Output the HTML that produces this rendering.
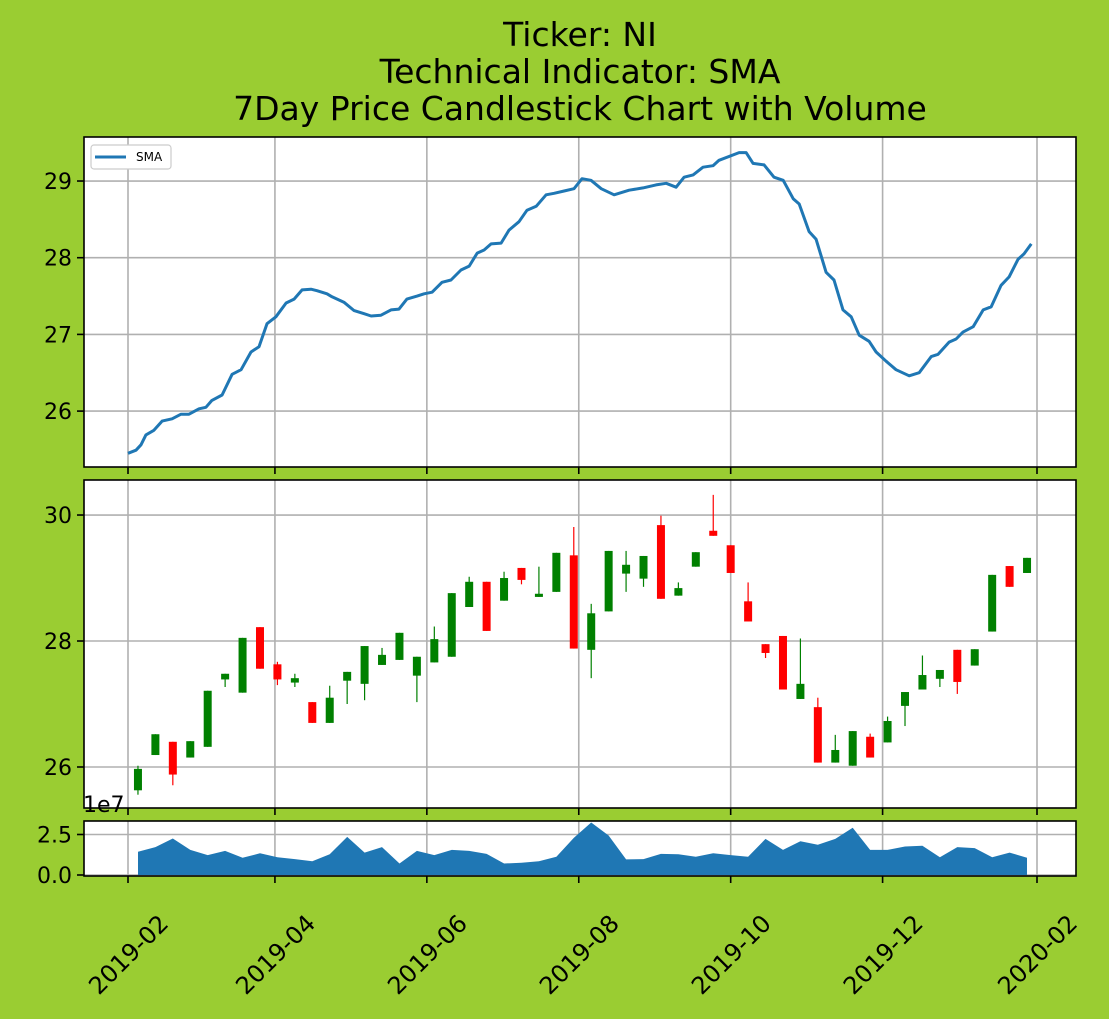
<!DOCTYPE html>
<html><head><meta charset="utf-8"><style>
html,body{margin:0;padding:0;background:#9acd32;}
svg{display:block;font-family:"DejaVu Sans","Liberation Sans",sans-serif;}
</style></head><body>
<svg id="chart" width="1109" height="1019" viewBox="0 0 1109 1019" xmlns="http://www.w3.org/2000/svg">
<rect x="0" y="0" width="1109" height="1019" fill="#9acd32"/>
<g font-size="33" text-anchor="middle" fill="#000">
<text x="580" y="46">Ticker: NI</text>
<text x="580" y="83">Technical Indicator: SMA</text>
<text x="580" y="120">7Day Price Candlestick Chart with Volume</text>
</g>
<g id="layer"></g>
</svg>
<script>
// SMA line data (day offsets from 2019-02-01)
const smaDays=[0,3.2,5.2,7.2,10.4,13.7,17.7,21.3,24.5,28.5,31.3,33.7,37.8,41.8,45.4,49.4,52.6,55.8,59.4,63.5,66.7,69.9,73.5,75.9,79.9,81.9,86.7,90.8,94.8,97.6,101.6,105.6,108.8,112,116.1,118.9,122.1,126.1,129.7,133.7,137,140.2,143,145.8,149.8,153,157,160.2,163.9,167.9,171.1,175.1,179.1,182.3,185.9,190,195.2,201.2,206.8,212,216.1,220.1,223.3,226.9,230.9,234.9,237.3,245.4,248.2,251,255.4,259.4,263.1,267.1,269.5,273.5,276.3,280.3,283.5,287.1,290.4,293.6,297.6,300.4,304.4,308.4,313.7,317.7,322.5,325.3,329.7,332.5,335.3,339.4,343.4,346.6,350.6,353.8,357.4,359.8,362.7];
const smaValues=[25.45,25.49,25.56,25.69,25.75,25.87,25.90,25.96,25.96,26.03,26.05,26.14,26.21,26.48,26.54,26.77,26.84,27.14,27.23,27.41,27.46,27.58,27.59,27.57,27.53,27.49,27.42,27.31,27.27,27.24,27.25,27.32,27.33,27.46,27.50,27.53,27.55,27.68,27.71,27.84,27.89,28.06,28.10,28.18,28.19,28.36,28.47,28.62,28.67,28.82,28.84,28.87,28.90,29.03,29.01,28.90,28.82,28.88,28.91,28.95,28.97,28.92,29.05,29.08,29.18,29.20,29.27,29.37,29.37,29.23,29.21,29.05,29.01,28.77,28.70,28.34,28.24,27.81,27.71,27.32,27.23,26.99,26.91,26.77,26.65,26.54,26.46,26.50,26.71,26.74,26.90,26.94,27.03,27.10,27.32,27.36,27.64,27.75,27.98,28.05,28.18];
// Weekly candles
const candleDates=["2019-02-05","2019-02-12","2019-02-19","2019-02-26","2019-03-05","2019-03-12","2019-03-19","2019-03-26","2019-04-02","2019-04-09","2019-04-16","2019-04-23","2019-04-30","2019-05-07","2019-05-14","2019-05-21","2019-05-28","2019-06-04","2019-06-11","2019-06-18","2019-06-25","2019-07-02","2019-07-09","2019-07-16","2019-07-23","2019-07-30","2019-08-06","2019-08-13","2019-08-20","2019-08-27","2019-09-03","2019-09-10","2019-09-17","2019-09-24","2019-10-01","2019-10-08","2019-10-15","2019-10-22","2019-10-29","2019-11-05","2019-11-12","2019-11-19","2019-11-26","2019-12-03","2019-12-10","2019-12-17","2019-12-24","2019-12-31","2020-01-07","2020-01-14","2020-01-21","2020-01-28"];
const opens=[25.63,26.19,26.40,26.15,26.32,27.39,27.18,28.22,27.63,27.34,27.03,26.70,27.37,27.32,27.62,27.70,27.45,27.66,27.75,28.54,28.94,28.64,29.16,28.70,28.78,29.36,27.86,28.47,29.07,28.99,29.84,28.72,29.18,29.75,29.52,28.63,27.95,28.08,27.08,26.95,26.07,26.02,26.48,26.39,26.97,27.23,27.40,27.86,27.61,28.15,29.19,29.08];
const closes=[25.97,26.52,25.88,26.41,27.21,27.48,28.05,27.56,27.39,27.41,26.70,27.10,27.51,27.92,27.78,28.13,27.75,28.03,28.76,28.94,28.16,29.00,28.97,28.75,29.40,27.88,28.44,29.43,29.21,29.35,28.67,28.84,29.41,29.67,29.08,28.31,27.81,27.23,27.32,26.07,26.27,26.57,26.15,26.73,27.19,27.46,27.54,27.35,27.87,29.05,28.86,29.32];
const highs=[26.02,26.52,26.40,26.41,27.21,27.48,28.05,28.22,27.67,27.48,27.03,27.29,27.51,27.92,27.89,28.13,27.75,28.23,28.76,29.02,28.94,29.10,29.16,29.18,29.40,29.81,28.59,29.43,29.43,29.35,29.99,28.93,29.41,30.32,29.52,28.93,27.95,28.08,28.04,27.10,26.51,26.57,26.53,26.80,27.19,27.77,27.54,27.86,27.87,29.05,29.19,29.32];
const lows=[25.56,26.19,25.71,26.15,26.32,27.27,27.18,27.56,27.30,27.27,26.70,26.70,27.00,27.06,27.62,27.70,27.03,27.66,27.75,28.54,28.16,28.64,28.90,28.70,28.78,27.88,27.41,28.47,28.78,28.86,28.67,28.72,29.18,29.67,29.08,28.31,27.73,27.23,27.08,26.07,26.07,26.02,26.15,26.39,26.65,27.23,27.27,27.16,27.61,28.15,28.86,29.08];
const volumes=[1.44,1.72,2.25,1.55,1.23,1.49,1.06,1.34,1.09,0.98,0.85,1.28,2.35,1.38,1.72,0.71,1.49,1.23,1.55,1.49,1.30,0.71,0.75,0.85,1.13,2.29,3.24,2.44,0.96,0.98,1.30,1.28,1.13,1.34,1.23,1.13,2.23,1.55,2.08,1.87,2.23,2.92,1.55,1.55,1.76,1.80,1.09,1.72,1.66,1.09,1.38,1.06];
const xTickLabels=["2019-02","2019-04","2019-06","2019-08","2019-10","2019-12","2020-02"];
const xTickDates=["2019-02-01","2019-04-01","2019-06-01","2019-08-01","2019-10-01","2019-12-01","2020-02-01"];
const smaTicks=[26,27,28,29];
const priceTicks=[26,28,30];
const volTicks=[0.0,2.5];

const NS="http://www.w3.org/2000/svg";
const layer=document.getElementById('layer');
const X0=84,X1=1076;
const base=Date.UTC(2019,1,1);
function dayOf(s){const p=s.split('-');return (Date.UTC(+p[0],+p[1]-1,+p[2])-base)/86400000;}
function xScale(d){return 128+(d)*(909/365);}
function mk(tag,attrs,parent){const e=document.createElementNS(NS,tag);for(const k in attrs)e.setAttribute(k,attrs[k]);(parent||layer).appendChild(e);return e;}
function lin(d0,d1,r0,r1){return v=>r0+(v-d0)*(r1-r0)/(d1-d0);}

const panels=[
 {name:'sma-panel',top:137,bot:467,y:lin(29.574,25.271,137,467),ticks:smaTicks,fmt:v=>String(v)},
 {name:'price-panel',top:480,bot:808,y:lin(30.556,25.349,480,808),ticks:priceTicks,fmt:v=>String(v)},
 {name:'volume-panel',top:821,bot:876,y:lin(3.333,-0.062,821,876),ticks:volTicks,fmt:v=>v.toFixed(1)}
];
panels.forEach(p=>{
  const g=mk('g',{});
  
  
  const bg=mk('rect',{x:X0,y:p.top,width:X1-X0,height:p.bot-p.top,fill:'#fff'},g);
  
  
  p.g=g;
  const grid=mk('g',{stroke:'#b0b0b0','stroke-width':1.6},g);
  
  
  xTickDates.forEach(d=>{const x=xScale(dayOf(d));mk('line',{x1:x,x2:x,y1:p.top,y2:p.bot},grid);
    mk('line',{x1:x,x2:x,y1:p.bot,y2:p.bot+7,stroke:'#000','stroke-width':1.6},g);});
  p.ticks.forEach(t=>{const y=p.y(t);mk('line',{x1:X0,x2:X1,y1:y,y2:y},grid);
    mk('line',{x1:X0-7,x2:X0,y1:y,y2:y,stroke:'#000','stroke-width':1.6},g);
    const tx=mk('text',{x:X0-12,y:y+8,'text-anchor':'end','font-size':22,fill:'#000'},g);
    tx.textContent=p.fmt(t);
    
    
  });
});

// SMA line
const smaP=panels[0];
let dstr=smaDays.map((d,i)=>(i?'L':'M')+xScale(d).toFixed(1)+','+smaP.y(smaValues[i]).toFixed(1)).join(' ');
const smaLine=mk('path',{d:dstr,fill:'none',stroke:'#1f77b4','stroke-width':3,'stroke-linejoin':'round'},smaP.g);


// legend
const lg=mk('g',{},smaP.g);


mk('rect',{x:91,y:145,width:80,height:24,rx:3,fill:'#fff',stroke:'#ccc','stroke-width':1.2},lg);
mk('line',{x1:95,x2:126,y1:157,y2:157,stroke:'#1f77b4','stroke-width':3},lg);
const lt=mk('text',{x:136,y:161,'font-size':12,fill:'#000'},lg);lt.textContent='SMA';



// candles
const prP=panels[1];
candleDates.forEach((ds,i)=>{
  const x=xScale(dayOf(ds));
  const up=closes[i]>=opens[i];
  const col=up?'#008000':'#ff0000';
  const cg=mk('g',{},prP.g);
  
  
  mk('line',{x1:x,x2:x,y1:prP.y(highs[i]),y2:prP.y(lows[i]),stroke:col,'stroke-width':1.2},cg);
  const t=prP.y(Math.max(opens[i],closes[i])),b=prP.y(Math.min(opens[i],closes[i]));
  mk('rect',{x:x-4,y:t,width:8,height:Math.max(b-t,1),fill:col},cg);
});
const off=mk('text',{x:83,y:812,'font-size':22,fill:'#000'},prP.g);
off.textContent='1e7';



// volume area
const vP=panels[2];
let vd='M'+xScale(dayOf(candleDates[0])).toFixed(1)+','+vP.y(0).toFixed(1);
candleDates.forEach((ds,i)=>{vd+=' L'+xScale(dayOf(ds)).toFixed(1)+','+vP.y(volumes[i]).toFixed(1);});
vd+=' L'+xScale(dayOf(candleDates[candleDates.length-1])).toFixed(1)+','+vP.y(0).toFixed(1)+' Z';
const va=mk('path',{d:vd,fill:'#1f77b4'},vP.g);



// frames on top
panels.forEach(p=>{mk('rect',{x:X0,y:p.top,width:X1-X0,height:p.bot-p.top,fill:'none',stroke:'#000','stroke-width':1.6},p.g);});

// x tick labels
xTickDates.forEach((d,i)=>{
  const x=xScale(dayOf(d));
  const t=mk('text',{x:0,y:0,'font-size':24,fill:'#000','text-anchor':'middle',transform:'translate('+x+',954) rotate(-45)'} );
  t.setAttribute('dy','9');
  t.textContent=xTickLabels[i];
  
  
});
</script>
</body></html>
